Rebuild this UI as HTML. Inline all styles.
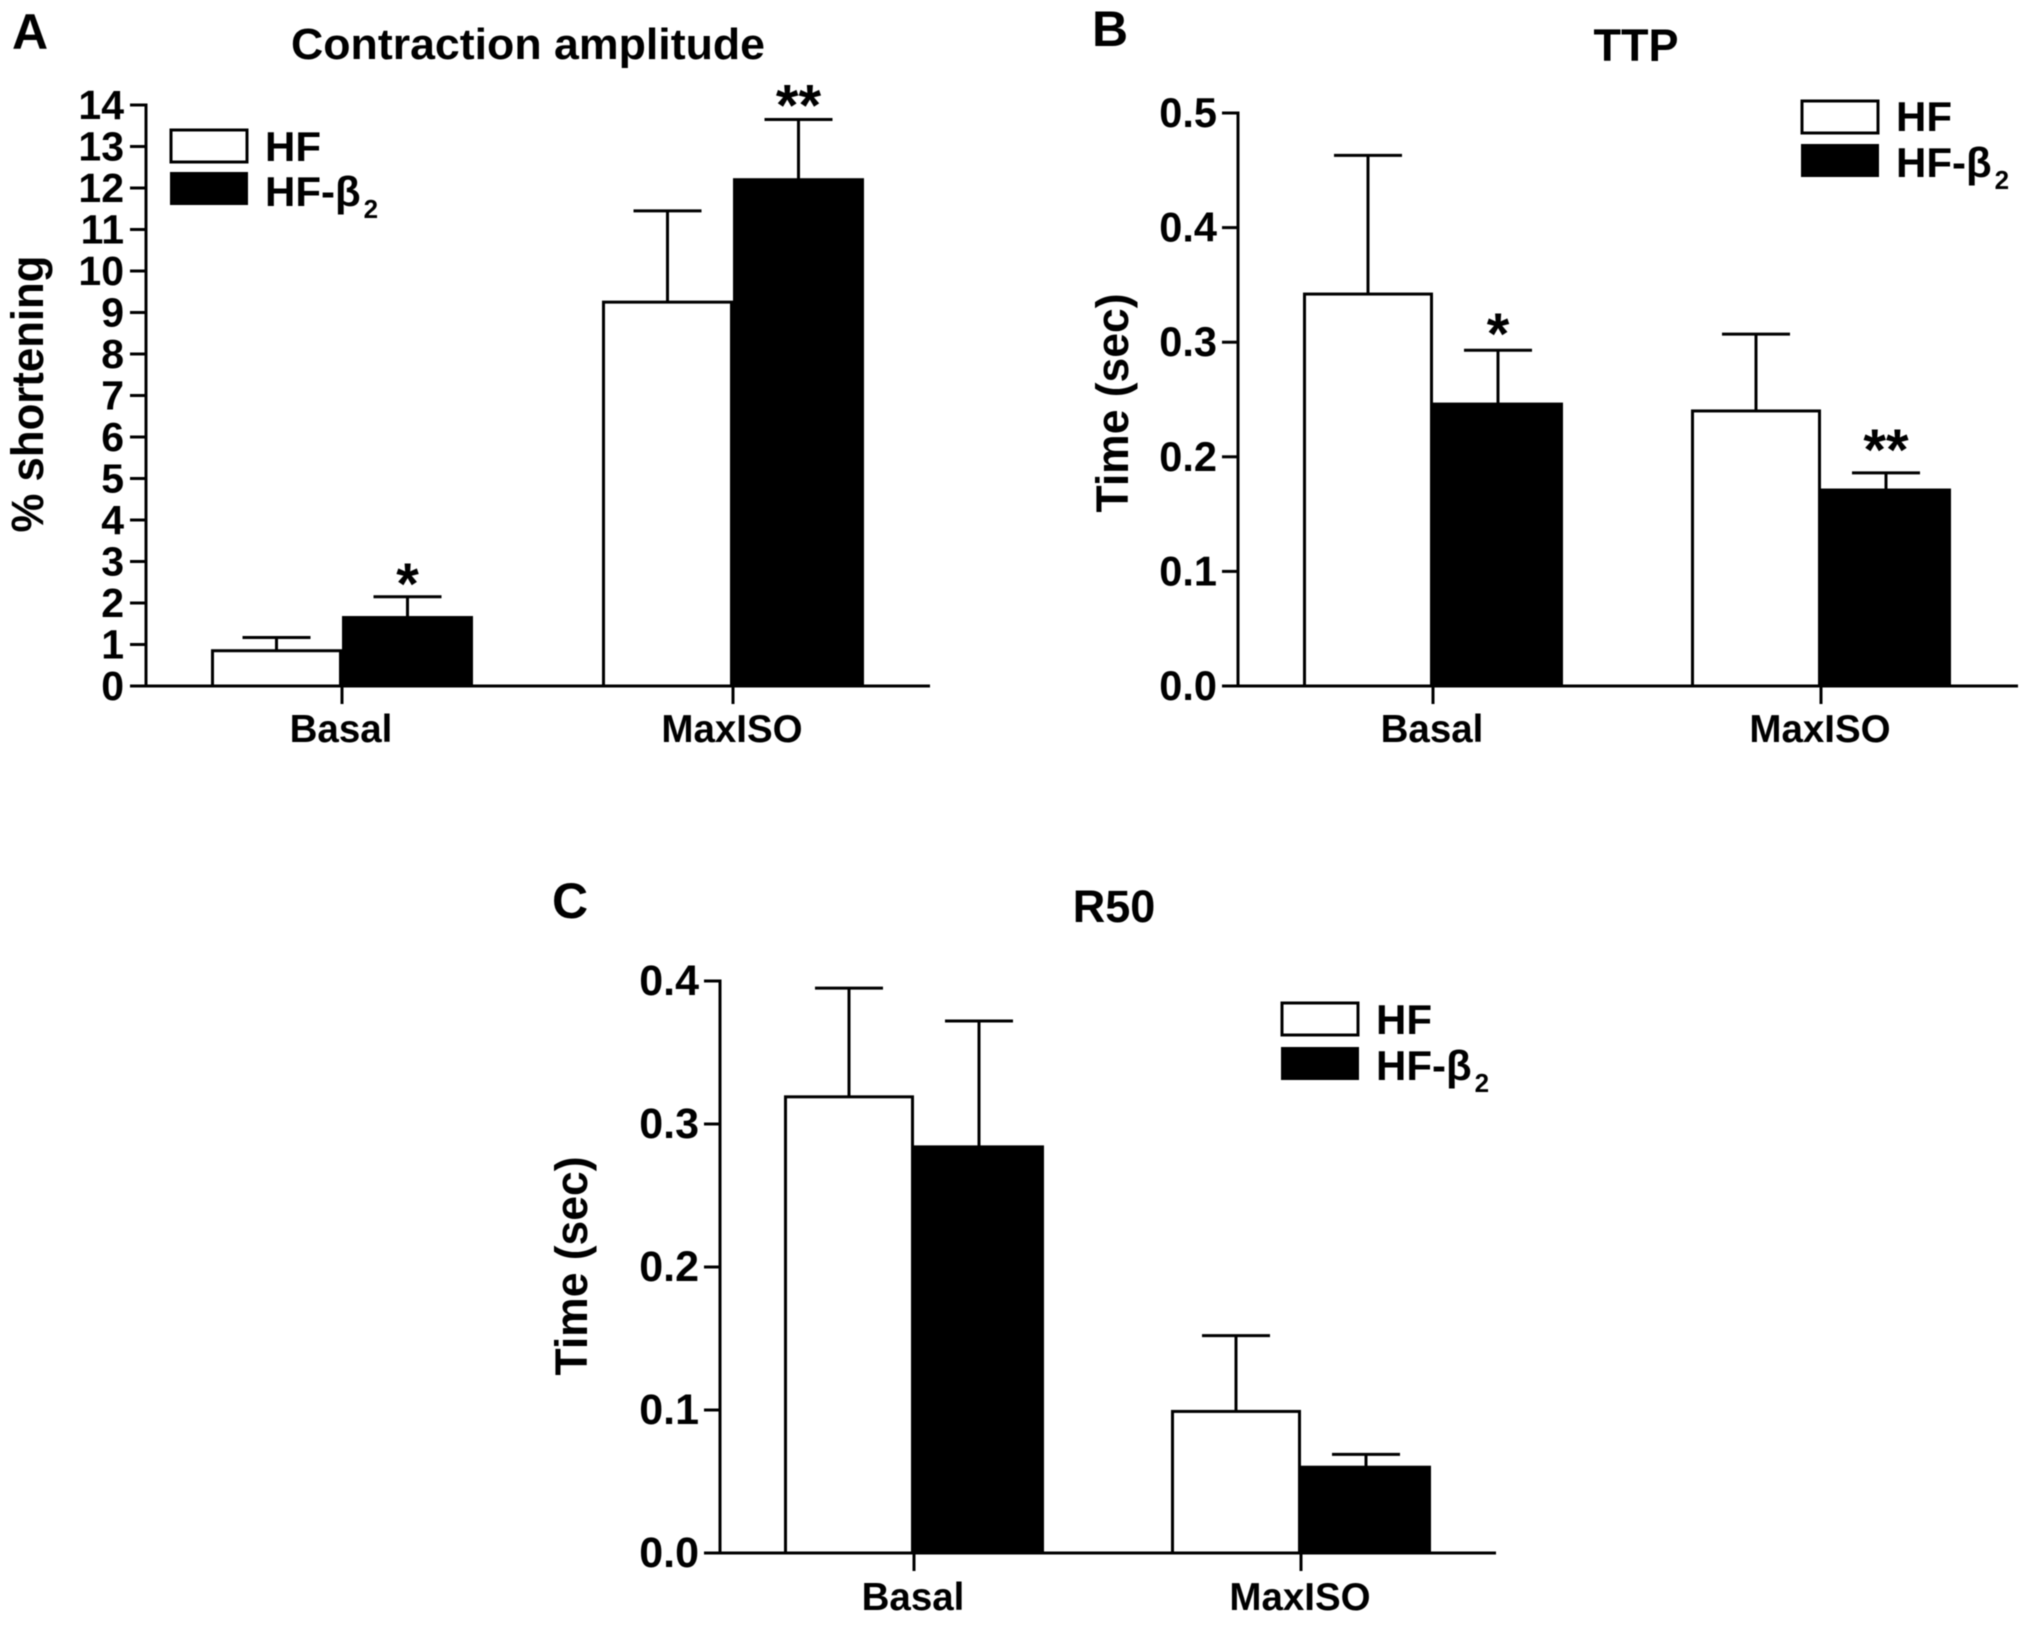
<!DOCTYPE html>
<html>
<head>
<meta charset="utf-8">
<style>
html,body{margin:0;padding:0;background:#fff;}
svg{display:block;filter:blur(0.5px);}
text{font-family:"Liberation Sans",sans-serif;font-weight:bold;fill:#000;}
</style>
</head>
<body>
<svg id="figure" xmlns="http://www.w3.org/2000/svg" width="2031" height="1625" viewBox="0 0 2031 1625">
  <rect x="0" y="0" width="2031" height="1625" fill="#fff"/>

  <g id="panel-a">
    <text x="12" y="49" font-size="50">A</text>
    <text x="528" y="59" font-size="44" text-anchor="middle" textLength="474" lengthAdjust="spacingAndGlyphs">Contraction amplitude</text>
    <text transform="translate(43 394) rotate(-90)" font-size="45" text-anchor="middle" textLength="277" lengthAdjust="spacingAndGlyphs">% shortening</text>
    <g>
      <rect x="171" y="130" width="76" height="32" fill="#fff" stroke="#000" stroke-width="3"/>
      <rect x="170" y="172" width="78" height="33" fill="#000"/>
      <text x="265" y="161" font-size="42">HF</text>
      <text x="265" y="206" font-size="42">HF-β<tspan font-size="26" dy="12" dx="3">2</tspan></text>
    </g>
  </g>

  <g id="panel-b">
    <text x="1092" y="46" font-size="50">B</text>
    <text x="1636" y="61" font-size="45" text-anchor="middle">TTP</text>
    <text transform="translate(1128 403) rotate(-90)" font-size="45" text-anchor="middle" textLength="219" lengthAdjust="spacingAndGlyphs">Time (sec)</text>
    <g>
      <rect x="1802" y="101" width="76" height="32" fill="#fff" stroke="#000" stroke-width="3"/>
      <rect x="1801" y="144" width="78" height="33" fill="#000"/>
      <text x="1896" y="131" font-size="42">HF</text>
      <text x="1896" y="177" font-size="42">HF-β<tspan font-size="26" dy="12" dx="3">2</tspan></text>
    </g>
  </g>

  <g id="panel-c">
    <text x="552" y="918" font-size="50">C</text>
    <text x="1114" y="922" font-size="45" text-anchor="middle">R50</text>
    <text transform="translate(587 1266) rotate(-90)" font-size="45" text-anchor="middle" textLength="219" lengthAdjust="spacingAndGlyphs">Time (sec)</text>
    <g>
      <rect x="1282" y="1003" width="76" height="32" fill="#fff" stroke="#000" stroke-width="3"/>
      <rect x="1281" y="1047" width="78" height="33" fill="#000"/>
      <text x="1376" y="1034" font-size="42">HF</text>
      <text x="1376" y="1080" font-size="42">HF-β<tspan font-size="26" dy="12" dx="3">2</tspan></text>
    </g>
  </g>
</svg>

<script>
// Shared categories
var categories = ["Basal", "MaxISO"];

// Panel A: Contraction amplitude (% shortening)
var aTickLabels = ["0","1","2","3","4","5","6","7","8","9","10","11","12","13","14"];
var aHF = [0.85, 9.25];
var aHFBeta2 = [1.65, 12.2];
var aHFError = [0.32, 2.2];
var aHFBeta2Error = [0.5, 1.45];
var aBeta2Stars = ["*", "**"];

// Panel B: TTP (sec)
var bTickLabels = ["0.0","0.1","0.2","0.3","0.4","0.5"];
var bHF = [0.342, 0.24];
var bHFBeta2 = [0.246, 0.171];
var bHFError = [0.121, 0.067];
var bHFBeta2Error = [0.047, 0.015];
var bBeta2Stars = ["*", "**"];

// Panel C: R50 (sec)
var cTickLabels = ["0.0","0.1","0.2","0.3","0.4"];
var cHF = [0.319, 0.099];
var cHFBeta2 = [0.284, 0.06];
var cHFError = [0.076, 0.053];
var cHFBeta2Error = [0.088, 0.009];
var cBeta2Stars = ["", ""];

var SVG_NS = "http://www.w3.org/2000/svg";

function mk(tag, attrs, parent) {
  var el = document.createElementNS(SVG_NS, tag);
  for (var k in attrs) { el.setAttribute(k, attrs[k]); }
  parent.appendChild(el);
  return el;
}

function line(x1, y1, x2, y2, parent) {
  return mk("line", {x1: x1, y1: y1, x2: x2, y2: y2, stroke: "#000", "stroke-width": 3}, parent);
}

function drawPanel(o) {
  var root = document.getElementById(o.id);
  var maxV = Number(o.tickLabels[o.tickLabels.length - 1]);
  var yScale = function (v) { return o.y0 - (v / maxV) * (o.y0 - o.yTop); };
  var xScale = function (i) { return o.firstCentre + i * o.groupStep; };

  // Bars and error bars, drawn before the axes so the axes sit on top
  o.categories.forEach(function (cat, i) {
    var c = xScale(i);
    var series = [
      {key: "hf", vals: o.hf, errs: o.hfErr, left: c - o.barW, centre: c - o.barW / 2, fill: "#fff"},
      {key: "hf-beta2", vals: o.beta2, errs: o.beta2Err, left: c, centre: c + o.barW / 2, fill: "#000"}
    ];
    series.forEach(function (s) {
      var top = yScale(s.vals[i]);
      var errTop = yScale(s.vals[i] + s.errs[i]);

      var stem = line(s.centre, top, s.centre, errTop, root);
      
      

      var cap = line(s.centre - o.capHalf, errTop, s.centre + o.capHalf, errTop, root);
      
      

      var bar = mk("rect", {x: s.left + 1.5, y: top, width: o.barW - 3, height: o.y0 - top, fill: s.fill, stroke: "#000", "stroke-width": 3}, root);
      
      

      if (s.key === "hf-beta2" && o.stars[i]) {
        var gap = o.stars[i].length > 1 ? o.doubleStarGap : o.starGap;
        var star = mk("text", {x: s.centre, y: errTop - gap + 23, "font-size": 58, "text-anchor": "middle"}, root);
        star.textContent = o.stars[i];
        
        
      }
    });

    var xTick = line(c, o.y0, c, o.y0 + 18, root);
    
    

    var xLab = mk("text", {x: c + o.catDx, y: o.catY, "font-size": 38.5, "text-anchor": "middle"}, root);
    xLab.textContent = cat;
    
    
  });

  // Axes
  var yAxis = line(o.x0, o.yTop - 1.5, o.x0, o.y0 + 1.5, root);
  
  

  var xAxis = line(o.x0, o.y0, o.xEnd, o.y0, root);
  
  

  o.tickLabels.forEach(function (label) {
    var y = yScale(Number(label));

    var tick = line(o.x0 - 16, y, o.x0, y, root);
    
    

    var lab = mk("text", {x: o.x0 - o.tickGap, y: y + 14, "font-size": o.tickFont, "text-anchor": "end"}, root);
    lab.textContent = label;
    
    
  });
}

drawPanel({id: "panel-a", categories: categories, tickLabels: aTickLabels, hf: aHF, beta2: aHFBeta2, hfErr: aHFError, beta2Err: aHFBeta2Error, stars: aBeta2Stars,
  x0: 146, y0: 686, yTop: 105, xEnd: 930, firstCentre: 342, groupStep: 391, barW: 131, capHalf: 34, starGap: 16, doubleStarGap: 17, catDx: -1, catY: 742, tickFont: 41, tickGap: 22});
drawPanel({id: "panel-b", categories: categories, tickLabels: bTickLabels, hf: bHF, beta2: bHFBeta2, hfErr: bHFError, beta2Err: bHFBeta2Error, stars: bBeta2Stars,
  x0: 1238, y0: 686, yTop: 113, xEnd: 2018, firstCentre: 1433, groupStep: 388, barW: 130, capHalf: 34, starGap: 19, doubleStarGap: 26, catDx: -1, catY: 742, tickFont: 41.5, tickGap: 21});
drawPanel({id: "panel-c", categories: categories, tickLabels: cTickLabels, hf: cHF, beta2: cHFBeta2, hfErr: cHFError, beta2Err: cHFBeta2Error, stars: cBeta2Stars,
  x0: 720, y0: 1553, yTop: 981, xEnd: 1496, firstCentre: 914, groupStep: 387, barW: 130, capHalf: 34, starGap: 18, doubleStarGap: 18, catDx: -1, catY: 1610, tickFont: 43, tickGap: 21});
</script>
</body>
</html>
